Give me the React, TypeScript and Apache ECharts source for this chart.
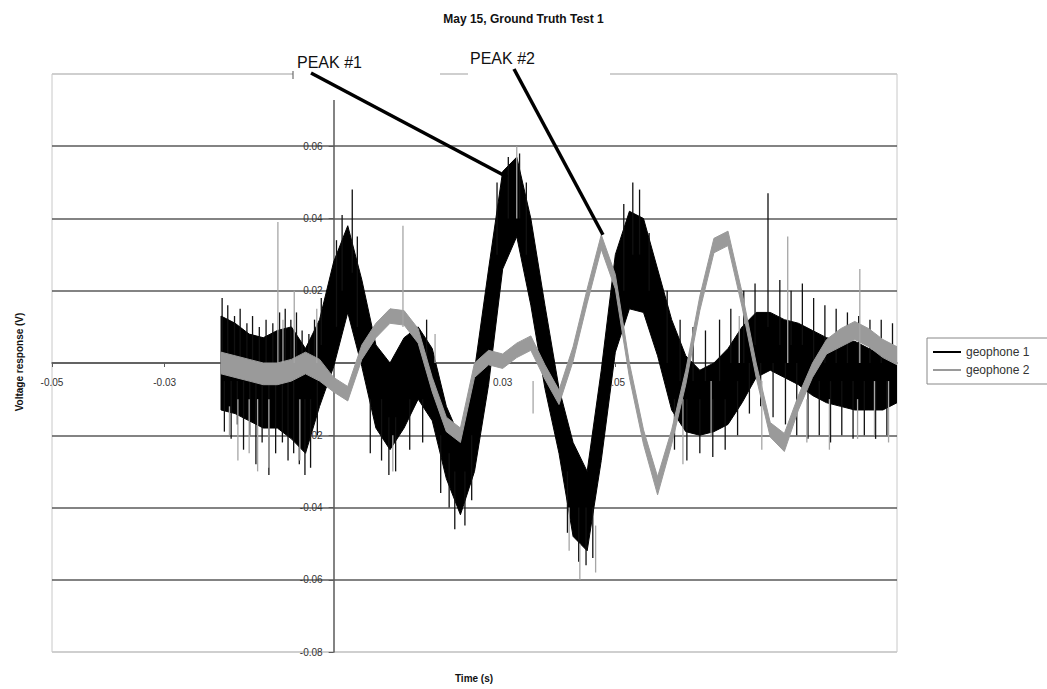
import React, { useEffect, useRef } from "react";
import * as echarts from "echarts";

const TITLE = "May 15, Ground Truth Test 1";
const X_NAME = "Time (s)";
const Y_NAME = "Voltage response (V)";
const SERIES_NAMES = ["geophone 1", "geophone 2"];
const X_TICKS = [-0.05, -0.03, -0.01, 0.01, 0.03, 0.05, 0.07, 0.09];

const TIME = [
  -0.02, -0.0175, -0.015, -0.0125, -0.01, -0.0075, -0.005, -0.0025, 0,
  0.0025, 0.005, 0.0075, 0.01, 0.0125, 0.015, 0.0175, 0.02, 0.0225, 0.025,
  0.0275, 0.03, 0.0325, 0.035, 0.0375, 0.04, 0.0425, 0.045, 0.0475, 0.05,
  0.0525, 0.055, 0.0575, 0.06, 0.0625, 0.065, 0.0675, 0.07, 0.0725, 0.075,
  0.0775, 0.08, 0.0825, 0.085, 0.0875, 0.09, 0.0925, 0.095, 0.0975, 0.1,
];

// geophone 1 (black): upper / lower edge of the dense noisy band
const GEO1_HI = [
  0.013, 0.011, 0.008, 0.007, 0.009, 0.010, 0.004, 0.012, 0.028,
  0.038, 0.023, 0.005, 0.000, 0.007, 0.010, 0.004, -0.012, -0.021, -0.002,
  0.026, 0.053, 0.057, 0.040, 0.016, -0.007, -0.022, -0.030, -0.002, 0.030,
  0.042, 0.040, 0.026, 0.012, 0.002, -0.002, 0.000, 0.004, 0.010, 0.014,
  0.014, 0.012, 0.011, 0.009, 0.007, 0.006, 0.006, 0.004, 0.002, 0.002,
];
const GEO1_LO = [
  -0.013, -0.014, -0.016, -0.018, -0.018, -0.021, -0.025, -0.012, -0.001,
  0.014, -0.001, -0.018, -0.024, -0.018, -0.010, -0.016, -0.032, -0.042, -0.030,
  -0.006, 0.026, 0.035, 0.016, -0.007, -0.025, -0.048, -0.052, -0.027, 0.003,
  0.015, 0.014, 0.002, -0.013, -0.019, -0.020, -0.019, -0.017, -0.011, -0.004,
  -0.002, -0.004, -0.006, -0.009, -0.011, -0.012, -0.013, -0.013, -0.013, -0.011,
];

// geophone 2 (grey)
const GEO2_HI = [
  0.003, 0.002, 0.001, 0.000, 0.000, 0.001, 0.003, 0.001, -0.004,
  -0.0065, 0.005, 0.011, 0.015, 0.0145, 0.0095, -0.004, -0.015, -0.018, 0.000,
  0.0035, 0.0025, 0.0055, 0.0075, -0.0005, -0.0075, 0.0045, 0.0205, 0.0355, 0.0245,
  0.000, -0.0185, -0.0315, -0.0185, -0.002, 0.0185, 0.0345, 0.0365, 0.0195, 0.000,
  -0.0165, -0.0195, -0.009, 0.000, 0.0065, 0.0095, 0.0115, 0.0095, 0.0065, 0.0045,
];
const GEO2_LO = [
  -0.003, -0.004, -0.005, -0.006, -0.006, -0.005, -0.003, -0.005, -0.008,
  -0.0105, 0.001, 0.007, 0.011, 0.0105, 0.0055, -0.008, -0.019, -0.022, -0.004,
  -0.0005, -0.0015, 0.0015, 0.0035, -0.0045, -0.0115, 0.0005, 0.0165, 0.0315, 0.0205,
  -0.004, -0.0225, -0.0365, -0.0225, -0.006, 0.0145, 0.0305, 0.0325, 0.0155, -0.004,
  -0.0205, -0.0245, -0.013, -0.004, 0.0025, 0.0045, 0.0065, 0.0045, 0.0015, -0.0005,
];

// isolated noise spikes of geophone 1: [time, from, to]
const GEO1_SPIKES = [
  [-0.0198, 0.0, 0.018], [-0.0188, 0.0, 0.016], [-0.0176, 0.0, 0.013], [-0.0166, 0.0, 0.015],
  [-0.0154, 0.0, 0.011], [-0.0144, 0.0, 0.013], [-0.0132, 0.0, 0.01], [-0.012, 0.0, 0.012],
  [-0.0108, 0.0, 0.011], [-0.0096, 0.0, 0.014], [-0.0086, 0.0, 0.015], [-0.0076, 0.0, 0.012],
  [-0.0066, 0.0, 0.014], [-0.0056, 0.0, 0.009], [-0.0044, 0.0, 0.008], [-0.0034, 0.0, 0.012],
  [-0.0022, 0.005, 0.018],
  [-0.0194, -0.005, -0.019], [-0.0182, -0.005, -0.021], [-0.0171, -0.005, -0.017], [-0.016, -0.005, -0.024],
  [-0.0149, -0.005, -0.02], [-0.0138, -0.005, -0.028], [-0.0127, -0.005, -0.022], [-0.0115, -0.005, -0.031],
  [-0.0103, -0.005, -0.025], [-0.0091, -0.005, -0.022], [-0.0081, -0.005, -0.027], [-0.0071, -0.005, -0.025],
  [-0.0061, -0.01, -0.028], [-0.0051, -0.01, -0.031], [-0.0041, -0.01, -0.029], [-0.0029, -0.005, -0.02],
  [0.0005, 0.01, 0.034], [0.0015, 0.02, 0.041], [0.0033, 0.025, 0.048], [0.0042, 0.01, 0.035],
  [0.0065, -0.01, -0.025], [0.0085, -0.01, -0.027], [0.0098, -0.015, -0.031], [0.011, -0.015, -0.03],
  [0.0135, -0.01, -0.024], [0.0158, -0.01, -0.022], [0.0165, 0.0, 0.012], [0.019, -0.02, -0.036],
  [0.0205, -0.025, -0.04], [0.0215, -0.03, -0.046], [0.0233, -0.03, -0.045], [0.0245, -0.02, -0.038],
  [0.029, 0.03, 0.05], [0.031, 0.04, 0.057], [0.033, 0.04, 0.058], [0.0342, 0.03, 0.05],
  [0.0415, -0.03, -0.047], [0.0435, -0.04, -0.055], [0.0448, -0.04, -0.056], [0.046, -0.04, -0.054],
  [0.0515, 0.02, 0.044], [0.0531, 0.03, 0.05], [0.0543, 0.03, 0.048], [0.056, 0.02, 0.036],
  [0.0592, 0.0, 0.02], [0.0615, -0.005, 0.012], [0.0638, -0.005, 0.01], [0.066, -0.005, 0.009],
  [0.0685, -0.005, 0.012], [0.0705, 0.0, 0.015], [0.0728, 0.0, 0.02], [0.0748, 0.005, 0.022],
  [0.0771, 0.01, 0.047], [0.0792, 0.005, 0.023], [0.0812, 0.005, 0.02], [0.0832, 0.005, 0.022],
  [0.0852, 0.0, 0.018], [0.0872, 0.0, 0.016], [0.0892, 0.0, 0.015], [0.0912, 0.0, 0.014],
  [0.0932, 0.0, 0.013], [0.0952, 0.0, 0.012], [0.0972, 0.0, 0.012], [0.0992, 0.0, 0.011],
  [0.0605, -0.01, -0.024], [0.0627, -0.01, -0.027], [0.065, -0.01, -0.025], [0.0673, -0.01, -0.026],
  [0.0695, -0.01, -0.024], [0.0717, -0.005, -0.02], [0.0738, 0.0, -0.014], [0.0758, 0.0, -0.012],
  [0.078, 0.0, -0.015], [0.0802, 0.0, -0.017], [0.0822, 0.0, -0.02], [0.0842, -0.005, -0.021],
  [0.0862, -0.005, -0.02], [0.0882, -0.005, -0.022], [0.0902, -0.005, -0.02], [0.0922, -0.005, -0.021],
  [0.0942, -0.005, -0.02], [0.0962, -0.005, -0.021], [0.0982, -0.005, -0.02],
];
// isolated noise spikes of geophone 2
const GEO2_SPIKES = [
  [-0.0099, 0.0, 0.039], [-0.0185, -0.012, -0.02], [-0.017, -0.01, -0.027], [-0.015, -0.01, -0.025],
  [-0.0135, -0.01, -0.03], [-0.0115, -0.01, -0.029], [-0.009, 0.0, 0.012], [-0.007, 0.0, 0.02],
  [-0.006, -0.01, -0.027], [-0.003, 0.0, 0.015], [0.0123, 0.01, 0.038], [0.0105, -0.02, -0.03],
  [0.018, 0.0, 0.008], [0.0325, 0.04, 0.06], [0.0354, -0.005, -0.014], [0.0437, -0.05, -0.06],
  [0.0465, -0.045, -0.058], [0.0418, -0.04, -0.052], [0.0806, 0.0, 0.035], [0.0934, 0.0, 0.026],
  [0.062, -0.01, -0.028], [0.067, -0.005, -0.02], [0.072, 0.0, 0.013], [0.076, -0.005, -0.024],
  [0.084, -0.01, -0.022], [0.088, -0.01, -0.024], [0.093, -0.01, -0.021], [0.096, -0.005, -0.02],
  [0.0985, -0.005, -0.022],
];

const PEAK_LABELS = ["PEAK #1", "PEAK #2"];
const PEAK_POINTS = [
  [0.0308, 0.0515],
  [0.0478, 0.0355],
];

const FONT = "'Liberation Sans', Arial, Helvetica, sans-serif";

function bandSeries(name: string, hi: number[], lo: number[], color: string, z: number) {
  return {
    type: "custom",
    name,
    z,
    clip: true,
    data: TIME.map((t, i) => [t, hi[i], lo[i]]),
    encode: { x: 0, y: [1, 2] },
    itemStyle: { color },
    renderItem: (params: any, api: any) => {
      if (params.dataIndex !== 0) return null;
      const pts: number[][] = [];
      for (let i = 0; i < TIME.length; i++) pts.push(api.coord([TIME[i], hi[i]]));
      for (let i = TIME.length - 1; i >= 0; i--) pts.push(api.coord([TIME[i], lo[i]]));
      return {
        type: "polygon",
        shape: { points: pts },
        style: { fill: color, stroke: color, lineWidth: 1 },
      };
    },
  };
}

function spikeSeries(name: string, spikes: number[][], color: string, z: number) {
  return {
    type: "custom",
    name,
    z,
    clip: true,
    data: spikes,
    encode: { x: 0, y: [1, 2] },
    itemStyle: { color },
    renderItem: (_params: any, api: any) => {
      const a = api.coord([api.value(0), api.value(1)]);
      const b = api.coord([api.value(0), api.value(2)]);
      return {
        type: "line",
        shape: { x1: a[0], y1: a[1], x2: b[0], y2: b[1] },
        style: { stroke: color, lineWidth: 1.3 },
      };
    },
  };
}

export default function App() {
  const ref = useRef<HTMLDivElement>(null);

  useEffect(() => {
    if (!ref.current) return;
    const chart = echarts.init(ref.current, undefined, { renderer: "svg" });
    const W = 1047;
    const H = 689;
    const grid = { left: 52, top: 74, right: 150, bottom: 37 };
    const dark = "#5a5a5a";
    const light = "#c8c8c8";

    chart.setOption({
      animation: false,
      backgroundColor: "#ffffff",
      title: {
        text: TITLE,
        left: "center",
        top: 8,
        textStyle: { fontSize: 12, fontWeight: "bold", color: "#111", fontFamily: FONT },
      },
      grid: { ...grid, show: true, borderColor: light, borderWidth: 1 },
      legend: {
        orient: "vertical",
        left: 927,
        top: 338,
        padding: [8, 60, 8, 6],
        itemGap: 6,
        itemWidth: 28,
        itemHeight: 2,
        borderColor: "#888",
        borderWidth: 1,
        textStyle: { fontSize: 12, color: "#333", fontFamily: FONT },
        data: [
          { name: SERIES_NAMES[0], icon: "rect", itemStyle: { color: "#000" } },
          { name: SERIES_NAMES[1], icon: "rect", itemStyle: { color: "#9a9a9a" } },
        ],
      },
      xAxis: {
        type: "value",
        min: -0.05,
        max: 0.1,
        axisLine: { onZero: false, lineStyle: { color: dark, width: 1.5 } },
        axisTick: { show: true, length: 4, customValues: X_TICKS, lineStyle: { color: dark } },
        axisLabel: {
          customValues: X_TICKS,
          margin: 14,
          fontSize: 10,
          color: "#333",
          fontFamily: FONT,
          formatter: (v: number) => String(+v.toFixed(2)),
        },
        splitLine: { show: false },
      },
      yAxis: {
        type: "value",
        min: -0.08,
        max: 0.08,
        interval: 0.02,
        axisLine: { onZero: false, lineStyle: { color: dark, width: 1.5 } },
        axisTick: { show: true, length: 5, lineStyle: { color: dark } },
        axisLabel: {
          margin: 11,
          fontSize: 10,
          color: "#333",
          fontFamily: FONT,
          formatter: (v: number) => (Math.abs(v) < 1e-9 ? "0" : v.toFixed(2)),
        },
        splitLine: {
          show: true,
          lineStyle: {
            color: [light, dark, dark, dark, dark, dark, dark, dark, light],
            width: 1.5,
          },
        },
      },
      series: [
        bandSeries(SERIES_NAMES[0], GEO1_HI, GEO1_LO, "#000000", 2),
        spikeSeries(SERIES_NAMES[0], GEO1_SPIKES, "#111111", 3),
        bandSeries(SERIES_NAMES[1], GEO2_HI, GEO2_LO, "#9a9a9a", 4),
        spikeSeries(SERIES_NAMES[1], GEO2_SPIKES, "#a6a6a6", 5),
      ],
    });

    // move both axes (line, ticks, labels) onto the origin like the Excel chart
    const origin = chart.convertToPixel({ gridIndex: 0 }, [0, 0]) as number[];
    const p1 = chart.convertToPixel({ gridIndex: 0 }, PEAK_POINTS[0]) as number[];
    const p2 = chart.convertToPixel({ gridIndex: 0 }, PEAK_POINTS[1]) as number[];

    chart.setOption({
      xAxis: { offset: -((H - grid.bottom) - origin[1]) },
      yAxis: { offset: -(origin[0] - grid.left) },
      graphic: [
        { type: "rect", z: 100, shape: { x: 293, y: 46, width: 147, height: 54 }, style: { fill: "#fff" } },
        { type: "rect", z: 100, shape: { x: 468, y: 42, width: 142, height: 44 }, style: { fill: "#fff" } },
        { type: "line", z: 101, shape: { x1: 293, y1: 71, x2: 293, y2: 79 }, style: { stroke: "#555", lineWidth: 1 } },
        {
          type: "text", z: 102, x: 297, y: 54,
          style: { text: PEAK_LABELS[0], fontSize: 16, fill: "#111", fontFamily: FONT, textVerticalAlign: "top" },
        },
        {
          type: "text", z: 102, x: 470, y: 50,
          style: { text: PEAK_LABELS[1], fontSize: 16, fill: "#111", fontFamily: FONT, textVerticalAlign: "top" },
        },
        { type: "line", z: 103, shape: { x1: 311, y1: 73, x2: p1[0], y2: p1[1] }, style: { stroke: "#000", lineWidth: 3.5 } },
        { type: "line", z: 103, shape: { x1: 514, y1: 69, x2: p2[0], y2: p2[1] }, style: { stroke: "#000", lineWidth: 3.5 } },
        {
          type: "text", z: 102, x: 474, y: 678,
          style: { text: X_NAME, fontSize: 10, fontWeight: "bold", fill: "#111", fontFamily: FONT, textAlign: "center", textVerticalAlign: "middle" },
        },
        {
          type: "text", z: 102, x: 19, y: 362, rotation: Math.PI / 2,
          style: { text: Y_NAME, fontSize: 10, fontWeight: "bold", fill: "#111", fontFamily: FONT, textAlign: "center", textVerticalAlign: "middle" },
        },
      ],
    });

    return () => chart.dispose();
  }, []);

  return (
    <div
      ref={ref}
      style={{ position: "fixed", left: 0, top: 0, width: 1047, height: 689, background: "#fff" }}
    />
  );
}
